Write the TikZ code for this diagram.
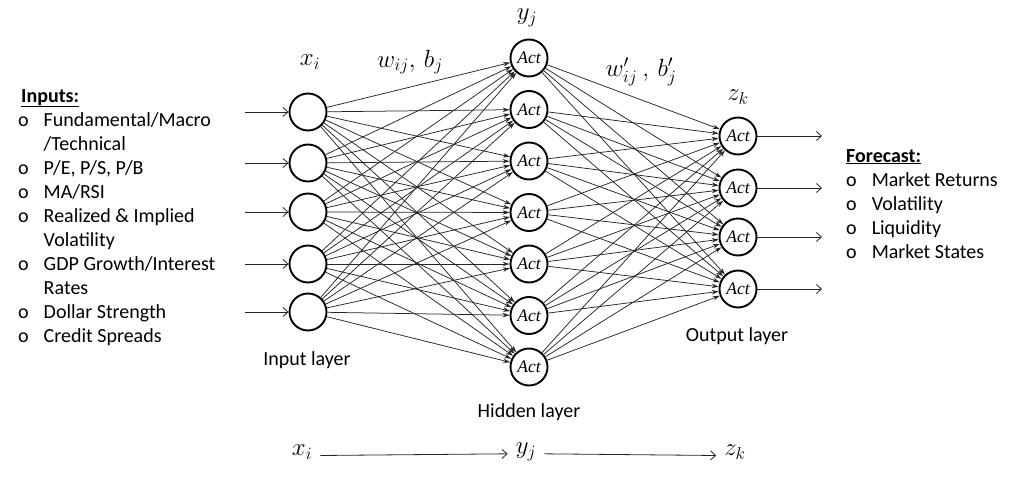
\documentclass[tikz,border=0pt]{standalone}
\usepackage{fontspec}
\setmainfont{Carlito}
\newfontfamily\actfont{Liberation Serif}
\usepackage{tikz}
\usetikzlibrary{arrows.meta}

\tikzset{
  neuron/.style={circle, draw, line width=1.9pt, minimum size=37pt, inner sep=0pt},
  actnode/.style={neuron, font=\actfont\itshape\fontsize{17.5}{18}\selectfont},
  link/.style={line width=0.75pt, black!85, -{Stealth[length=7pt,width=4.5pt]}},
  feed/.style={line width=0.8pt, black!85, -{Straight Barb[length=5pt,width=9pt]}},
  lbl/.style={font=\fontsize{20}{24}\selectfont},
  sym/.style={font=\fontsize{23}{26}\selectfont},
}

\begin{document}
\begin{tikzpicture}[x=1pt, y=-1pt]
  \useasboundingbox (0,0) rectangle (1017,479);
  % Layers
  \foreach \y [count=\i] in {112,163,212,264,312} {
    \node[neuron] (in\i) at (308,\y) {};
    \coordinate (src\i) at (245,\y);
  }
  \foreach \j in {1,...,7}
    \node[actnode] (hid\j) at (529,{58+51.5*(\j-1)}) {Act};
  \foreach \y [count=\k] in {136,188,237,289} {
    \node[actnode] (out\k) at (738,\y) {Act};
    \coordinate (dst\k) at (822,\y);
  }
  % Connections
  \foreach \i in {1,...,5} {
    \draw[feed] (src\i) -- (in\i);
    \foreach \j in {1,...,7}
      \draw[link] (in\i) -- (hid\j);
  }
  \foreach \j in {1,...,7}
    \foreach \k in {1,...,4}
      \draw[link] (hid\j) -- (out\k);
  \foreach \k in {1,...,4}
    \draw[feed] (out\k) -- (dst\k);
  % Symbols
  \node[sym] (xi) at (310,62) {$x_i$};
  \node[sym] (wb) at (410,62) {$w_{ij},\, b_j$};
  \node[sym, inner sep=1pt] (yj) at (527,18) {$y_j$};
  \node[sym] (wbp) at (641,72) {$w'_{ij}\ ,\, b'_j$};
  \node[sym] (zk) at (738,97) {$z_k$};
  % Layer names
  \node[lbl] (inname) at (307,360) {Input layer};
  \node[lbl] (hidname) at (529,412) {Hidden layer};
  \node[lbl] (outname) at (737,336) {Output layer};
  % Inputs and forecast lists
  \node[lbl, anchor=north west, inner sep=0pt] (inputs) at (18,85) {%
    \begin{tabular}{@{}l@{\hspace{15pt}}l@{}}
      \multicolumn{2}{@{}l}{\hspace{3pt}\underline{\textbf{Inputs:}}}\\
      o & Fundamental/Macro\\
        & /Technical\\
      o & P/E, P/S, P/B\\
      o & MA/RSI\\
      o & Realized \& Implied\\
        & Volatility\\
      o & GDP Growth/Interest\\
        & Rates\\
      o & Dollar Strength\\
      o & Credit Spreads
    \end{tabular}};
  \node[lbl, anchor=north west, inner sep=0pt] (forecast) at (846,145) {%
    \begin{tabular}{@{}l@{\hspace{15pt}}l@{}}
      \multicolumn{2}{@{}l}{\underline{\textbf{Forecast:}}}\\
      o & Market Returns\\
      o & Volatility\\
      o & Liquidity\\
      o & Market States
    \end{tabular}};
  % Flow along the bottom
  \node[sym, inner sep=8pt] (xb) at (302,452) {$x_i$};
  \node[sym, inner sep=8pt] (yb) at (526,452) {$y_j$};
  \node[sym, inner sep=8pt] (zb) at (735,452) {$z_k$};
  \draw[feed] (xb.base east) -- (yb.base west);
  \draw[feed] (yb.base east) -- (zb.base west);
\end{tikzpicture}
\end{document}
